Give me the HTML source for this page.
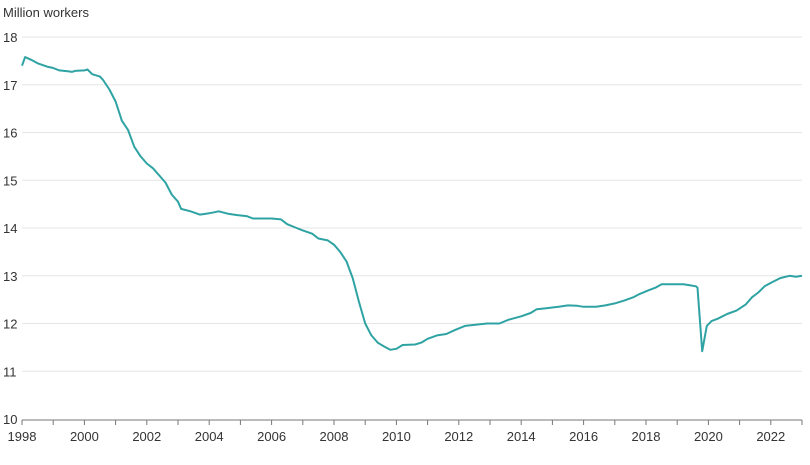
<!DOCTYPE html>
<html><head><meta charset="utf-8"><style>
body{margin:0;background:#fff;width:810px;height:460px;overflow:hidden;font-family:"Liberation Sans",sans-serif}
</style></head><body>
<svg id="c" width="810" height="460" xmlns="http://www.w3.org/2000/svg"></svg>
<script>
const X=t=>22+31.2*(t-1998), Y=v=>419-47.75*(v-10);
let s='<text x="3" y="17" font-size="13" fill="#333">Million workers</text>';
for(let v=11;v<=18;v++){s+=`<line x1="22" x2="802" y1="${Y(v)}" y2="${Y(v)}" stroke="#e6e6e6"/>`;}
for(let v=10;v<=18;v++){s+=`<text x="3" y="${Y(v)+5}" font-size="13" fill="#333">${v}</text>`;}
s+=`<line x1="22" x2="802" y1="420" y2="420" stroke="#777"/>`;
for(let y=1998;y<=2023;y++){s+=`<line x1="${X(y)}" x2="${X(y)}" y1="420" y2="425" stroke="#777"/>`;
if(y%2==0)s+=`<text x="${X(y)}" y="441" font-size="13" fill="#333" text-anchor="middle">${y}</text>`;}
const d=[[1998,17.4],[1998.1,17.58],[1998.3,17.52],[1998.5,17.45],[1998.8,17.38],[1999,17.35],[1999.2,17.3],[1999.5,17.28],[1999.6,17.27],[1999.7,17.29],[2000,17.3],[2000.1,17.32],[2000.25,17.22],[2000.5,17.17],[2000.6,17.1],[2000.8,16.9],[2001,16.65],[2001.2,16.25],[2001.4,16.05],[2001.6,15.7],[2001.8,15.5],[2002,15.35],[2002.2,15.25],[2002.4,15.1],[2002.6,14.95],[2002.8,14.7],[2003,14.55],[2003.1,14.4],[2003.4,14.35],[2003.7,14.28],[2003.9,14.3],[2004.1,14.32],[2004.3,14.35],[2004.6,14.3],[2004.9,14.27],[2005.2,14.25],[2005.4,14.2],[2005.6,14.2],[2006,14.2],[2006.3,14.18],[2006.5,14.08],[2006.8,14],[2007,13.95],[2007.3,13.88],[2007.5,13.78],[2007.8,13.74],[2008,13.65],[2008.2,13.5],[2008.4,13.3],[2008.6,12.95],[2008.8,12.45],[2009,12],[2009.2,11.75],[2009.4,11.6],[2009.6,11.52],[2009.8,11.45],[2010,11.47],[2010.2,11.55],[2010.6,11.56],[2010.8,11.6],[2011,11.68],[2011.3,11.75],[2011.6,11.78],[2011.9,11.87],[2012.2,11.95],[2012.5,11.97],[2012.9,12],[2013.3,12],[2013.6,12.08],[2014,12.15],[2014.3,12.22],[2014.5,12.3],[2014.8,12.32],[2015.2,12.35],[2015.5,12.38],[2015.8,12.37],[2016,12.35],[2016.4,12.35],[2016.7,12.38],[2017,12.42],[2017.3,12.48],[2017.6,12.55],[2017.8,12.62],[2018.1,12.7],[2018.3,12.75],[2018.5,12.82],[2018.7,12.82],[2019,12.82],[2019.2,12.82],[2019.4,12.8],[2019.6,12.78],[2019.65,12.75],[2019.8,11.42],[2019.95,11.95],[2020.1,12.05],[2020.3,12.1],[2020.6,12.2],[2020.9,12.27],[2021.2,12.4],[2021.4,12.55],[2021.6,12.65],[2021.8,12.78],[2022,12.85],[2022.3,12.95],[2022.6,13],[2022.8,12.98],[2023,13]];
s+=`<polyline fill="none" stroke="#2fa3a3" stroke-width="2" stroke-linejoin="round" points="${d.map(p=>X(p[0]).toFixed(1)+','+Y(p[1]).toFixed(1)).join(' ')}"/>`;
document.getElementById('c').innerHTML=s;
</script>
</body></html>
